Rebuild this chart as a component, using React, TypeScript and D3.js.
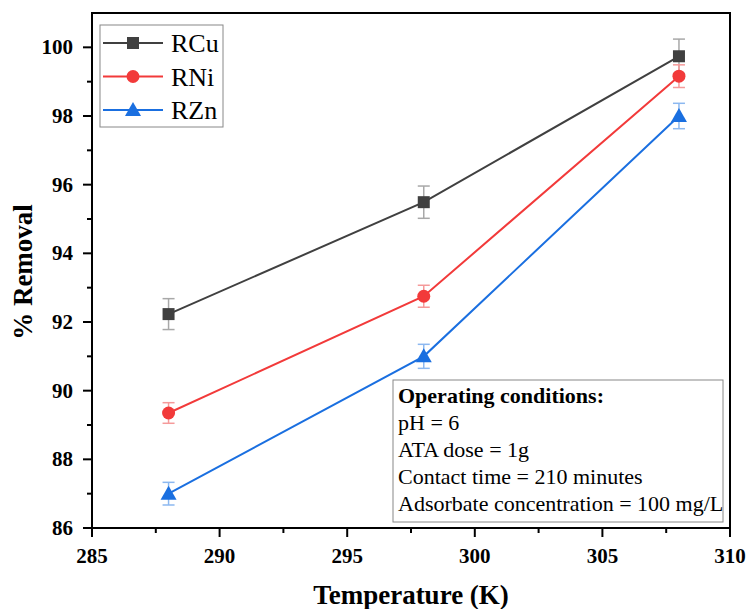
import React from "react";
import * as d3 from "d3";

const temps = [288, 298, 308];
const rcu = [92.23, 95.49, 99.74];
const rcuErr = [0.45, 0.47, 0.5];
const rni = [89.35, 92.75, 99.16];
const rniErr = [0.3, 0.32, 0.33];
const rzn = [87.0, 91.0, 98.0];
const rznErr = [0.33, 0.35, 0.37];
const xTicks = [285, 290, 295, 300, 305, 310];
const yTicks = [86, 88, 90, 92, 94, 96, 98, 100];
const seriesNames = ["RCu", "RNi", "RZn"];
const infoLines = ["pH = 6", "ATA dose = 1g", "Contact time = 210 minutes", "Adsorbate concentration = 100 mg/L"];

const W = 750, H = 609;
const L = 92, R = 730, T = 13, B = 528;
const FONT = "'Liberation Serif', 'Times New Roman', serif";

function Marker({ kind, x, y, color }: { kind: string; x: number; y: number; color: string }) {
  if (kind === "square") return <rect x={x - 6} y={y - 6} width={12} height={12} fill={color} />;
  if (kind === "circle") return <circle cx={x} cy={y} r={6.5} fill={color} />;
  const s = 8;
  return <path d={`M${x},${y - s}L${x + s},${y + s * 0.75}L${x - s},${y + s * 0.75}Z`} fill={color} />;
}

export default function App() {
  const x = d3.scaleLinear().domain([285, 310]).range([L, R]);
  const y = d3.scaleLinear().domain([86, 101]).range([B, T]);
  const series = [
    { name: seriesNames[0], vals: rcu, err: rcuErr, color: "#404040", errColor: "#a8a8a8", kind: "square" },
    { name: seriesNames[1], vals: rni, err: rniErr, color: "#f23a3a", errColor: "#f59a9a", kind: "circle" },
    { name: seriesNames[2], vals: rzn, err: rznErr, color: "#1a6fe0", errColor: "#8cb8f0", kind: "triangle" },
  ];
  const line = d3.line<number>().x((_, i) => x(temps[i])).y((d) => y(d));
  const xMinor = d3.range(287.5, 310, 5);
  const yMinor = d3.range(87, 101, 2);

  return (
    <svg width={W} height={H} style={{ position: "absolute", left: 0, top: 0 }} fontFamily={FONT}>
      <rect width={W} height={H} fill="#fff" />
      <rect x={L} y={T} width={R - L} height={B - T} fill="none" stroke="#000" strokeWidth={2} />
      {xTicks.map((t) => (
        <g key={"xt" + t}>
          <line x1={x(t)} x2={x(t)} y1={B} y2={B + 9} stroke="#000" strokeWidth={2} />
          <text x={x(t)} y={563} textAnchor="middle" fontSize={21} fontWeight="bold">{t}</text>
        </g>
      ))}
      {xMinor.map((t) => (
        <line key={"xm" + t} x1={x(t)} x2={x(t)} y1={B} y2={B + 5} stroke="#000" strokeWidth={2} />
      ))}
      {yTicks.map((t) => (
        <g key={"yt" + t}>
          <line x1={L - 9} x2={L} y1={y(t)} y2={y(t)} stroke="#000" strokeWidth={2} />
          <text x={L - 19} y={y(t) + 7} textAnchor="end" fontSize={21} fontWeight="bold">{t}</text>
        </g>
      ))}
      {yMinor.map((t) => (
        <line key={"ym" + t} x1={L - 5} x2={L} y1={y(t)} y2={y(t)} stroke="#000" strokeWidth={2} />
      ))}
      <text x={411} y={604} textAnchor="middle" fontSize={27} fontWeight="bold">Temperature (K)</text>
      <text transform={`translate(32,272) rotate(-90)`} textAnchor="middle" fontSize={27} fontWeight="bold">% Removal</text>

      {series.map((s) => (
        <g key={s.name}>
          <path d={line(s.vals) || ""} fill="none" stroke={s.color} strokeWidth={2} />
          {s.vals.map((v, i) => {
            const cx = x(temps[i]);
            const y1 = y(v + s.err[i]);
            const y2 = y(v - s.err[i]);
            return (
              <g key={i} stroke={s.errColor} strokeWidth={1.5}>
                <line x1={cx} x2={cx} y1={y1} y2={y2} />
                <line x1={cx - 6} x2={cx + 6} y1={y1} y2={y1} />
                <line x1={cx - 6} x2={cx + 6} y1={y2} y2={y2} />
              </g>
            );
          })}
          {s.vals.map((v, i) => (
            <Marker key={"m" + i} kind={s.kind} x={x(temps[i])} y={y(v)} color={s.color} />
          ))}
        </g>
      ))}

      <rect x={100} y={25} width={123} height={102} fill="#fff" stroke="#888" strokeWidth={1} />
      {series.map((s, i) => {
        const ly = 43 + i * 33.5;
        return (
          <g key={"lg" + s.name}>
            <line x1={103} x2={163} y1={ly} y2={ly} stroke={s.color} strokeWidth={2} />
            <Marker kind={s.kind} x={133} y={ly} color={s.color} />
            <text x={171} y={ly + 9} fontSize={26}>{s.name}</text>
          </g>
        );
      })}

      <rect x={393} y={380} width={330} height={142} fill="#fff" stroke="#888" strokeWidth={1} />
      <text x={398} y={403} fontSize={22} fontWeight="bold">Operating conditions:</text>
      {infoLines.map((t, i) => (
        <text key={t} x={398} y={430 + i * 27} fontSize={22}>{t}</text>
      ))}
    </svg>
  );
}
